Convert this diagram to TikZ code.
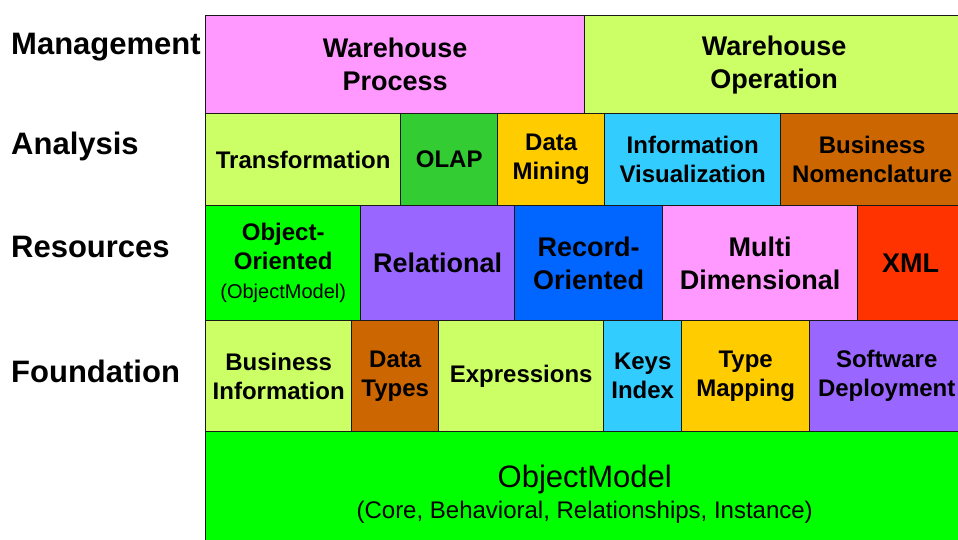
\documentclass[tikz,border=0pt]{standalone}
\usepackage{fontspec}
\setmainfont{Liberation Sans}
\usetikzlibrary{positioning}

\definecolor{pinkbox}{HTML}{FF99FF}
\definecolor{limebox}{HTML}{CCFF66}
\definecolor{olapgreen}{HTML}{33CC33}
\definecolor{goldbox}{HTML}{FFCC00}
\definecolor{cyanbox}{HTML}{33CCFF}
\definecolor{brownbox}{HTML}{CC6600}
\definecolor{greenbox}{HTML}{00FF00}
\definecolor{purplebox}{HTML}{9966FF}
\definecolor{bluebox}{HTML}{0066FF}
\definecolor{redbox}{HTML}{FF3300}

\begin{document}
\begin{tikzpicture}[x=1pt,y=-1pt,
	cell/.style={draw=black!90,line width=1.4pt,align=center,inner sep=0pt,anchor=north west,
		font=\bfseries\fontsize{24}{29}\selectfont},
	big/.style={font=\bfseries\fontsize{27}{33}\selectfont},
	layer/.style={anchor=base west,inner sep=0pt,font=\bfseries\fontsize{31}{34}\selectfont}]
	\useasboundingbox (0,0) rectangle (958,540);
	\clip (0,0) rectangle (958,540);

	%layer names
	\node[layer] (lmgmt) at (11,55) {Management};
	\node[layer] (lanal) at (11,155) {Analysis};
	\node[layer] (lres) at (11,257) {Resources};
	\node[layer] (lfound) at (11,382) {Foundation};

	%management
	\node[cell,big,fill=pinkbox,minimum width=379pt,minimum height=98pt] (wproc) at (205,15) {Warehouse\\Process};
	\node[cell,big,fill=limebox,minimum width=379pt,minimum height=98pt] (wop) at (584,15) {Warehouse\\Operation};

	%analysis
	\node[cell,fill=limebox,minimum width=195pt,minimum height=92pt] (trans) at (205,113) {Transformation};
	\node[cell,fill=olapgreen,minimum width=97pt,minimum height=92pt] (olap) at (400,113) {OLAP};
	\node[cell,fill=goldbox,minimum width=107pt,minimum height=92pt] (dmin) at (497,113) {Data\\Mining};
	\node[cell,fill=cyanbox,minimum width=176pt,minimum height=92pt] (infovis) at (604,113) {Information\\Visualization};
	\node[cell,fill=brownbox,minimum width=183pt,minimum height=92pt] (bnom) at (780,113) {Business\\Nomenclature};

	%resources
	\node[cell,fill=greenbox,minimum width=155pt,minimum height=115pt] (objor) at (205,205)
		{Object-\\Oriented\\{\mdseries\fontsize{20}{27}\selectfont(ObjectModel)}};
	\node[cell,big,fill=purplebox,minimum width=154pt,minimum height=115pt] (rel) at (360,205) {Relational};
	\node[cell,big,fill=bluebox,minimum width=148pt,minimum height=115pt] (recor) at (514,205) {Record-\\Oriented};
	\node[cell,big,fill=pinkbox,minimum width=195pt,minimum height=115pt] (multi) at (662,205) {Multi\\Dimensional};
	\node[cell,big,fill=redbox,minimum width=106pt,minimum height=115pt] (xml) at (857,205) {XML};

	%foundation
	\node[cell,fill=limebox,minimum width=146pt,minimum height=111pt] (binfo) at (205,320) {Business\\Information};
	\node[cell,fill=brownbox,minimum width=87pt,minimum height=111pt] (dtypes) at (351,320) {Data\\Types};
	\node[cell,fill=limebox,minimum width=165pt,minimum height=111pt] (expr) at (438,320) {Expressions};
	\node[cell,fill=cyanbox,minimum width=78pt,minimum height=111pt] (keys) at (603,320) {Keys\\Index};
	\node[cell,fill=goldbox,minimum width=128pt,minimum height=111pt] (tmap) at (681,320) {Type\\Mapping};
	\node[cell,fill=purplebox,minimum width=154pt,minimum height=111pt] (swdep) at (809,320) {Software\\Deployment};

	%object model
	\node[cell,fill=greenbox,minimum width=758pt,minimum height=125pt,font=\mdseries] (omodel) at (205,431)
		{\fontsize{31}{36}\selectfont ObjectModel\\[6pt]\fontsize{24}{30}\selectfont(Core, Behavioral, Relationships, Instance)};
\end{tikzpicture}
\end{document}
